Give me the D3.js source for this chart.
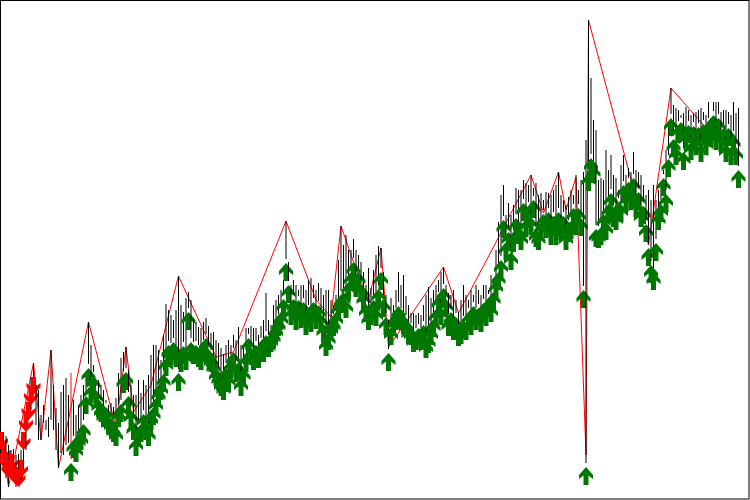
<!DOCTYPE html>
<html><head><meta charset="utf-8">
<script src="https://cdn.jsdelivr.net/npm/d3@7"></script>
<style>html,body{margin:0;padding:0;background:#fff}svg{display:block}</style>
</head><body><div id="chart"></div>
<script>
const highs = [
68,68,64,55,50,51,45,46,50,55,85,95,123,137,115,110,85,95,80,83,
150,115,92,77,108,115,122,105,127,100,85,95,105,115,128,178,155,135,115,120,
115,110,100,95,97,93,102,127,142,148,153,130,115,105,105,120,107,120,115,125,
145,155,155,150,140,165,196,190,185,180,190,224,195,188,202,208,200,182,178,173,
172,178,182,174,167,168,160,157,152,146,155,160,155,165,160,173,155,155,172,172,
174,172,172,165,174,180,207,180,175,195,200,205,210,220,279,238,215,220,215,210,
215,215,210,220,222,215,210,217,212,205,210,210,200,195,205,240,274,255,265,250,
250,261,250,245,238,228,215,232,212,230,245,254,252,228,205,180,202,195,210,228,
215,225,204,195,187,187,185,187,185,195,205,213,202,210,215,220,228,233,215,207,
205,210,200,188,200,215,205,200,210,205,215,210,205,215,215,210,225,222,250,278,
305,315,285,297,285,295,312,310,310,320,317,315,325,312,317,305,307,300,308,307,
305,310,315,328,305,300,295,303,310,305,325,310,320,328,360,480,422,380,370,320,
322,320,350,330,345,325,322,310,335,345,325,332,328,348,330,328,325,315,305,310,
300,315,300,310,317,330,350,375,412,395,392,390,385,387,393,390,385,387,388,390,
392,388,385,398,382,398,398,398,388,390,390,388,385,398,387,392];
const lows = [
45,30,22,13,22,18,13,16,20,30,50,80,90,105,75,60,60,77,70,63,80,70,50,32,47,45,55,57,
41,64,60,70,72,80,108,136,119,128,114,105,100,95,97,88,86,80,76,95,
100,129,132,108,94,82,66,76,80,90,82,76,92,97,106,116,122,130,146,159,
157,162,155,131,150,158,152,192,162,158,159,155,152,160,166,155,150,144,136,132,
126,122,137,130,145,152,140,142,126,136,150,166,157,152,159,154,162,160,169,165,
170,174,180,186,192,205,241,219,197,205,192,204,194,202,187,195,190,202,193,199,
190,180,166,172,182,186,192,202,209,212,204,222,232,242,225,232,220,212,200,192,
197,204,196,215,232,205,187,151,177,186,192,198,192,188,185,178,177,170,172,176,
172,179,164,169,177,185,195,208,197,216,205,186,192,182,187,176,178,184,182,192,
187,198,192,196,190,201,196,206,200,212,224,232,244,284,262,272,252,270,286,278,
272,301,285,298,287,304,275,272,282,290,284,292,277,288,277,292,282,288,272,280,
283,296,287,296,286,214,37,331,346,339,275,274,277,290,282,300,311,295,292,302,
300,319,310,322,312,326,305,312,295,298,280,256,239,232,261,292,300,326,310,345,
386,365,357,379,382,352,372,379,362,378,367,377,360,380,367,382,375,389,372,386,
370,376,360,376,357,369,357,334];
const sellTips = [50,38,30,22,28,20,15,13,22,50,68,80,95,105];
const firstBuyBar = 28;
const paleBars = [28];
const zigIndex = [0,3,13,16,20,23,35,46,50,53,60,71,75,86,93,114,123,126,132,136,141,147,152,155,164,177,183,197,204,212,217,223,226,230,234,235,259,268,295];
const zigValue = [68,13,137,60,150,32,178,73,153,88,115,224,202,143,148,279,220,200,183,274,238,200,252,153,185,233,187,253,287,325,287,328,290,323,45,480,255,412,335];

const W = 750, H = 500;
const svg = d3.select('#chart').append('svg').attr('width', W).attr('height', H);
const x = d3.scaleLinear().domain([0, highs.length - 1]).range([1, 738.5]);
const y = d3.scaleLinear().domain([0, 500]).range([500, 0]);

svg.append('rect').attr('x', 0.5).attr('y', 0.5).attr('width', 748.5).attr('height', 498.5)
  .attr('fill', '#fff').attr('stroke', '#000');

svg.append('path').datum(zigIndex.map((d, k) => [d, zigValue[k]]))
  .attr('fill', 'none').attr('stroke', '#ff0000').attr('stroke-width', 1)
  .attr('d', d3.line().x(d => x(d[0])).y(d => y(d[1])));

const upArrow = 'M0,0L7,8L7,12L2.5,8.5L2.5,18L-2.5,18L-2.5,8.5L-7,12L-7,8Z';
const downArrow = 'M0,0L7,-8L7,-12L2.5,-8.5L2.5,-18L-2.5,-18L-2.5,-8.5L-7,-12L-7,-8Z';

const rows = svg.append('g').selectAll('g').data(highs).join('g');
rows.append('line')
  .attr('x1', (d, i) => x(i)).attr('x2', (d, i) => x(i))
  .attr('y1', d => y(d)).attr('y2', (d, i) => y(lows[i]))
  .attr('stroke', (d, i) => paleBars.includes(i) ? '#ff0000' : '#000').attr('stroke-width', 1);
rows.filter((d, i) => i < sellTips.length).append('path')
  .attr('d', downArrow).attr('fill', '#ff0000')
  .attr('transform', (d, i) => `translate(${x(i)},${y(sellTips[i])})`);
rows.filter((d, i) => i >= firstBuyBar).append('path')
  .attr('d', upArrow).attr('fill', '#007700')
  .attr('transform', (d, i) => `translate(${x(i + firstBuyBar)},${y(lows[i + firstBuyBar]) + 4})`);
</script></body></html>
